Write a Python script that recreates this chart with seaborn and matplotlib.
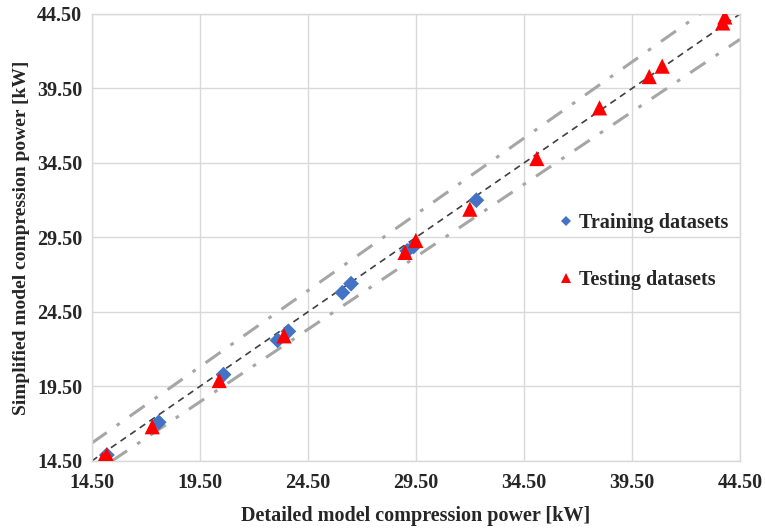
import matplotlib
matplotlib.use("Agg")
import matplotlib.pyplot as plt
import seaborn as sns
import pandas as pd
import numpy as np

train_x = [15.2, 17.6, 20.6, 23.1, 23.6, 26.1, 26.5, 29.1, 29.4, 32.3]
train_y = [14.9, 17.1, 20.3, 22.6, 23.2, 25.8, 26.4, 28.6, 28.9, 32.0]
test_x = [15.0, 15.2, 17.3, 20.4, 23.4, 29.0, 29.5, 32.0, 35.1, 38.0, 40.3, 40.9, 43.7, 43.8]
test_y = [14.6, 14.9, 16.8, 19.9, 22.9, 28.5, 29.3, 31.4, 34.8, 38.2, 40.3, 41.0, 43.9, 44.3]
ideal_x = [14.5, 44.5]
ideal_y = [14.5, 44.5]
upper_x = [14.5, 42.65]
upper_y = [15.7, 44.5]
lower_x = [15.43, 44.5]
lower_y = [14.5, 42.8]
ticks = [14.5, 19.5, 24.5, 29.5, 34.5, 39.5, 44.5]
labels_set = ["Training datasets", "Testing datasets"]

sns.set_style("white")
plt.rcParams['font.family'] = ['Liberation Serif', 'DejaVu Serif']
plt.rcParams['font.weight'] = 'bold'

df = pd.DataFrame({
    "x": train_x + test_x,
    "y": train_y + test_y,
    "set": [labels_set[0]] * len(train_x) + [labels_set[1]] * len(test_x),
})

fig = plt.figure(figsize=(7.65, 5.28), dpi=100)
ax = fig.add_axes([0.1199, 0.1269, 0.8474, 0.8466])

ax.plot(upper_x, upper_y, color="#A6A6A6", lw=2.2, dashes=(6, 4, 1.2, 4), zorder=1)
ax.plot(lower_x, lower_y, color="#A6A6A6", lw=2.2, dashes=(6, 4, 1.2, 4), zorder=1)
ax.plot(ideal_x, ideal_y, color="#404040", lw=1.2, dashes=(4, 3), zorder=1)

sns.scatterplot(data=df, x="x", y="y", hue="set", style="set",
                palette={labels_set[0]: "#4472C4", labels_set[1]: "#FF0000"},
                markers={labels_set[0]: "D", labels_set[1]: "^"},
                size="set", sizes={labels_set[0]: 65, labels_set[1]: 120},
                linewidth=0, ax=ax, zorder=3)

ax.set_xlim(14.5, 44.5)
ax.set_ylim(14.5, 44.5)
ax.set_xticks(ticks)
ax.set_yticks(ticks)
ax.set_xticklabels([f"{t:.2f}" for t in ticks], fontsize=14.5, fontweight='bold')
ax.set_yticklabels([f"{t:.2f}" for t in ticks], fontsize=14.5, fontweight='bold')
ax.tick_params(axis='x', length=0, pad=9)
ax.tick_params(axis='y', length=0, pad=7)
ax.grid(True, color="#D9D9D9", lw=1)
ax.set_axisbelow(True)
for s in ax.spines.values():
    s.set_color("#D9D9D9")
    s.set_linewidth(1)

ax.set_xlabel("Detailed model compression power [kW]", fontsize=14.5, fontweight='bold', labelpad=9)
ax.set_ylabel("Simplified model compression power [kW]", fontsize=14, fontweight='bold', labelpad=5)

handles, labs = ax.get_legend_handles_labels()
ax.legend(handles=handles, labels=labs, loc="upper left", bbox_to_anchor=(0.685, 0.595),
          frameon=False, fontsize=14.5, labelspacing=1.85, handletextpad=0.05,
          markerscale=0.6, handlelength=1.2)

fig.savefig("out.png", dpi=100)
